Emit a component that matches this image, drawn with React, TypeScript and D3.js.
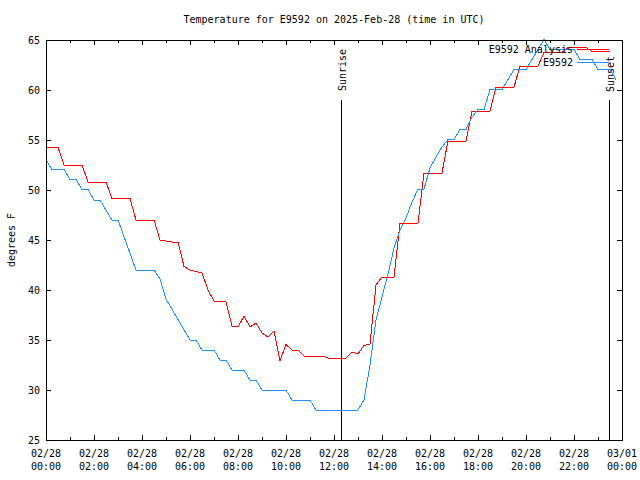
import React from "react";
import * as d3 from "d3";

const title = "Temperature for E9592 on 2025-Feb-28 (time in UTC)";
const yLabel = "degrees F";
const yTicks = [25, 30, 35, 40, 45, 50, 55, 60, 65];
const xTickHours = [0, 2, 4, 6, 8, 10, 12, 14, 16, 18, 20, 22, 24];
const xTickDates = ["02/28", "02/28", "02/28", "02/28", "02/28", "02/28", "02/28", "02/28", "02/28", "02/28", "02/28", "02/28", "03/01"];
const xTickTimes = ["00:00", "02:00", "04:00", "06:00", "08:00", "10:00", "12:00", "14:00", "16:00", "18:00", "20:00", "22:00", "00:00"];
const sunriseHour = 12.31;
const sunsetHour = 23.47;

// Analysis series (hours UTC, °F)
const analysisHours = [0, 0.5, 0.75, 1.5, 1.75, 2.5, 2.75, 3.5, 3.75, 4.5, 4.75, 5.25, 5.5, 5.75, 6.0, 6.5, 6.75, 7.0, 7.5, 7.75, 8.0, 8.25, 8.5, 8.75, 9.0, 9.25, 9.5, 9.75, 10.0, 10.25, 10.5, 10.75, 11.5, 11.75, 12.5, 12.75, 13.0, 13.25, 13.5, 13.75, 14.0, 14.5, 14.75, 15.5, 15.75, 16.5, 16.75, 17.5, 17.75, 18.5, 18.75, 19.5, 19.75, 20.5, 20.75, 21.5, 21.75, 22.5, 22.75, 23.5];
const analysisTemps = [54.25, 54.25, 52.5, 52.5, 50.8, 50.8, 49.15, 49.15, 47.0, 47.0, 45.0, 44.8, 44.8, 42.35, 42.0, 41.7, 40.0, 38.9, 38.8, 36.4, 36.3, 37.4, 36.3, 36.7, 35.7, 35.3, 35.9, 32.95, 34.55, 34.0, 34.0, 33.4, 33.4, 33.2, 33.2, 33.8, 33.6, 34.45, 34.6, 40.5, 41.3, 41.3, 46.7, 46.7, 51.7, 51.7, 54.9, 54.9, 57.9, 57.9, 60.3, 60.3, 62.4, 62.4, 63.75, 63.75, 64.25, 64.25, 63.85, 63.85];

// Observed series (hours UTC, °F)
const obsHours = [0, 0.25, 0.75, 1.0, 1.25, 1.5, 1.75, 2.0, 2.25, 2.75, 3.0, 3.75, 4.5, 4.75, 5.0, 6.0, 6.25, 6.5, 7.0, 7.25, 7.5, 7.75, 8.25, 8.5, 8.75, 9.0, 10.0, 10.25, 11.0, 11.25, 13.0, 13.25, 13.5, 13.75, 14.0, 14.25, 14.5, 14.75, 15.0, 15.25, 15.5, 15.75, 16.0, 16.25, 16.5, 16.75, 17.0, 17.25, 17.5, 17.75, 18.0, 18.25, 18.5, 19.0, 19.5, 20.0, 20.75, 21.0, 22.0, 22.25, 22.75, 23.0, 23.5, 23.75];
const obsTemps = [53.0, 52.05, 52.05, 51.05, 51.05, 50.05, 50.05, 49.0, 49.0, 47.0, 47.0, 42.0, 42.0, 41.1, 39.1, 35.0, 35.0, 34.0, 34.0, 33.0, 33.0, 32.0, 32.0, 31.0, 31.0, 30.0, 30.0, 29.0, 29.0, 28.0, 28.0, 29.0, 32.5, 37.0, 39.3, 41.6, 44.2, 46.0, 47.2, 48.8, 50.1, 50.1, 52.2, 53.3, 54.3, 55.05, 55.05, 56.05, 56.05, 57.3, 58.05, 58.05, 60.05, 60.05, 62.05, 62.05, 65.05, 64.05, 64.05, 63.05, 63.05, 62.05, 62.05, 61.05];

const FONT = "'DejaVu Sans Mono', monospace";
const RED = "#ff0000";
const BLUE = "#1e90ff";

export default function App() {
  const left = 46, right = 622, top = 40, bottom = 440;
  const x = d3.scaleLinear().domain([0, 24]).range([left, right]);
  const y = d3.scaleLinear().domain([25, 65]).range([bottom, top]);

  const line = d3.line<[number, number]>().x(d => x(d[0])).y(d => y(d[1]));
  const analysis = analysisHours.map((h, i) => [h, analysisTemps[i]] as [number, number]);
  const obs = obsHours.map((h, i) => [h, obsTemps[i]] as [number, number]);

  const hourTicks = d3.range(0, 25);

  return (
    <svg width={640} height={480} style={{ position: "absolute", left: 0, top: 0, background: "#fff" }} fontFamily={FONT} fontSize={10}>
      <rect x={0} y={0} width={640} height={480} fill="#fff" />
      <text x={334} y={19} textAnchor="middle" dominantBaseline="central">{title}</text>

      {/* x ticks */}
      {hourTicks.map(h => {
        const major = h % 2 === 0;
        const len = major ? 5 : 3;
        const xx = Math.round(x(h)) + 0.5;
        return (
          <g key={"xt" + h} stroke="#000" strokeWidth={1}>
            <line x1={xx} x2={xx} y1={bottom} y2={bottom - len} />
            <line x1={xx} x2={xx} y1={top} y2={top + len} />
          </g>
        );
      })}
      {xTickHours.map((h, i) => (
        <g key={"xl" + h}>
          <text x={x(h)} y={453} textAnchor="middle" dominantBaseline="central">{xTickDates[i]}</text>
          <text x={x(h)} y={466} textAnchor="middle" dominantBaseline="central">{xTickTimes[i]}</text>
        </g>
      ))}

      {/* y ticks */}
      {yTicks.map(t => {
        const yy = Math.round(y(t)) + 0.5;
        return (
          <g key={"yt" + t}>
            <line x1={left} x2={left + 5} y1={yy} y2={yy} stroke="#000" />
            <line x1={right} x2={right - 5} y1={yy} y2={yy} stroke="#000" />
            <text x={40} y={y(t)} textAnchor="end" dominantBaseline="central">{t}</text>
          </g>
        );
      })}
      <text transform={`translate(11,240) rotate(-90)`} textAnchor="middle" dominantBaseline="central">{yLabel}</text>

      {/* sunrise / sunset */}
      <line x1={Math.round(x(sunriseHour)) + 0.5} x2={Math.round(x(sunriseHour)) + 0.5} y1={100} y2={bottom} stroke="#000" />
      <text transform={`translate(${Math.round(x(sunriseHour)) + 1},91) rotate(-90)`} textAnchor="start" dominantBaseline="central">Sunrise</text>
      <line x1={Math.round(x(sunsetHour)) + 0.5} x2={Math.round(x(sunsetHour)) + 0.5} y1={100} y2={bottom} stroke="#000" />
      <text transform={`translate(${Math.round(x(sunsetHour)) + 1},92) rotate(-90)`} textAnchor="start" dominantBaseline="central">Sunset</text>

      {/* data */}
      <path d={line(analysis) || ""} fill="none" stroke={RED} strokeWidth={1} shapeRendering="crispEdges" />
      <path d={line(obs) || ""} fill="none" stroke={BLUE} strokeWidth={1} shapeRendering="crispEdges" />

      {/* legend */}
      <text x={573} y={49.5} textAnchor="end" dominantBaseline="central">E9592 Analysis</text>
      <line x1={577} x2={609} y1={49.5} y2={49.5} stroke={RED} shapeRendering="crispEdges" />
      <text x={573} y={62} textAnchor="end" dominantBaseline="central">E9592</text>
      <line x1={577} x2={609} y1={62.5} y2={62.5} stroke={BLUE} shapeRendering="crispEdges" />

      {/* frame */}
      <rect x={left + 0.5} y={top + 0.5} width={right - left} height={bottom - top} fill="none" stroke="#000" />
    </svg>
  );
}
